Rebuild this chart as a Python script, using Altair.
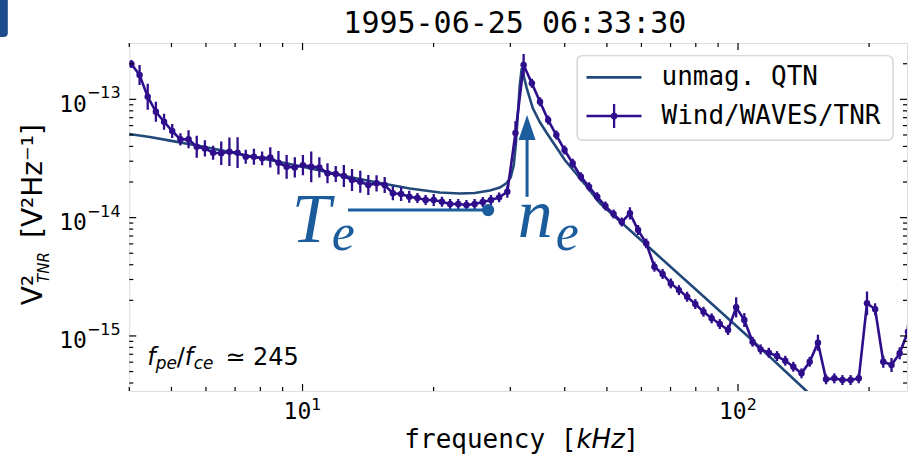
import altair as alt
import pandas as pd

# ---------------- data ----------------
freq_khz = [4.045, 4.224, 4.410, 4.605, 4.808, 5.020, 5.242, 5.473, 5.715, 5.967,
            6.231, 6.506, 6.793, 7.093, 7.406, 7.733, 8.075, 8.431, 8.804, 9.193,
            9.599, 10.02, 10.47, 10.93, 11.41, 11.92, 12.44, 12.99, 13.57, 14.16,
            14.79, 15.44, 16.12, 16.84, 17.58, 18.36, 19.17, 20.01, 20.90, 21.82,
            22.78, 23.79, 24.84, 25.94, 27.08, 28.28, 29.53, 30.83, 32.19, 33.62,
            35.10, 36.65, 38.27, 39.96, 41.72, 43.57, 45.49, 47.50, 49.60, 51.79,
            54.08, 56.47, 58.96, 61.56, 64.28, 67.12, 70.09, 73.18, 76.41, 79.79,
            83.31, 86.99, 90.83, 94.85, 99.04, 103.4, 108.0, 112.7, 117.7, 122.9,
            128.4, 134.0, 139.9, 146.1, 152.6, 159.3, 166.4, 173.7, 181.4, 189.4,
            197.8, 206.5, 215.6, 225.2, 235.1, 245.5]

tnr_v2 = [1.988e-13, 1.605e-13, 1.052e-13, 7.85e-14, 6.47e-14, 5.40e-14, 4.59e-14, 4.59e-14, 3.98e-14, 3.85e-14,
          3.54e-14, 3.50e-14, 3.61e-14, 3.54e-14, 3.27e-14, 3.27e-14, 3.17e-14, 3.23e-14, 2.91e-14, 2.69e-14,
          2.66e-14, 2.78e-14, 2.69e-14, 2.66e-14, 2.37e-14, 2.34e-14, 2.25e-14, 2.08e-14, 2.01e-14, 1.886e-14,
          1.95e-14, 1.886e-14, 1.605e-14, 1.583e-14, 1.502e-14, 1.464e-14, 1.409e-14, 1.409e-14, 1.363e-14, 1.303e-14,
          1.303e-14, 1.278e-14, 1.303e-14, 1.355e-14, 1.409e-14, 1.484e-14, 1.656e-14, 5.19e-14, 1.950e-13, 1.365e-13,
          9.54e-14, 6.68e-14, 4.99e-14, 3.73e-14, 2.88e-14, 2.22e-14, 1.825e-14, 1.502e-14, 1.253e-14, 1.072e-14,
          9.18e-15, 1.087e-14, 7.85e-15, 6.06e-15, 3.85e-15, 3.34e-15, 2.78e-15, 2.44e-15, 2.145e-15, 1.862e-15,
          1.602e-15, 1.409e-15, 1.261e-15, 1.122e-15, 1.745e-15, 1.363e-15, 8.93e-16, 7.70e-16, 7.21e-16, 6.76e-16,
          6.17e-16, 5.49e-16, 4.83e-16, 6.05e-16, 8.76e-16, 4.30e-16, 4.38e-16, 4.24e-16, 4.24e-16, 4.38e-16,
          1.887e-15, 1.679e-15, 6.05e-16, 5.68e-16, 7.13e-16, 1.085e-15]

# half-length of the error bars, in decades
tnr_err_dex = [0.034, 0.085, 0.11, 0.085, 0.068, 0.059, 0.051, 0.076, 0.093, 0.068,
               0.059, 0.10, 0.12, 0.13, 0.059, 0.068, 0.059, 0.085, 0.10, 0.10,
               0.085, 0.085, 0.13, 0.085, 0.085, 0.068, 0.093, 0.093, 0.093, 0.085,
               0.068, 0.068, 0.059, 0.059, 0.051, 0.042, 0.042, 0.051, 0.042, 0.042,
               0.042, 0.042, 0.042, 0.042, 0.042, 0.042, 0.051, 0.10, 0.093, 0.038,
               0.038, 0.038, 0.038, 0.038, 0.038, 0.038, 0.038, 0.038, 0.038, 0.038,
               0.038, 0.051, 0.042, 0.042, 0.042, 0.042, 0.042, 0.042, 0.042, 0.042,
               0.042, 0.042, 0.042, 0.042, 0.085, 0.059, 0.042, 0.042, 0.042, 0.042,
               0.042, 0.042, 0.042, 0.042, 0.068, 0.042, 0.042, 0.042, 0.042, 0.042,
               0.10, 0.051, 0.051, 0.059, 0.051, 0.059]

qtn_freq = [3.95, 4.461, 4.960, 5.810, 6.810, 7.980, 9.35, 10.96, 12.84, 15.05,
            17.63, 20.67, 22.96, 24.86, 26.92, 28.38, 29.44, 30.07, 30.55, 30.88,
            31.21, 31.54, 31.87, 32.72, 33.78, 35.06, 36.38, 37.96, 40.02, 42.19,
            44.48, 46.90, 48.14, 62.71, 81.69, 106.4, 143.6, 162.4]
qtn_v2 = [5.12e-14, 4.80e-14, 4.48e-14, 4.03e-14, 3.58e-14, 3.19e-14, 2.84e-14, 2.50e-14, 2.20e-14, 1.961e-14,
          1.762e-14, 1.630e-14, 1.598e-14, 1.614e-14, 1.694e-14, 1.796e-14, 1.961e-14, 2.20e-14, 2.78e-14, 4.11e-14,
          7.37e-14, 1.321e-13, 1.839e-13, 1.246e-13, 8.44e-14, 6.43e-14, 5.19e-14, 4.11e-14, 3.07e-14, 2.43e-14,
          1.923e-14, 1.493e-14, 1.328e-14, 5.53e-15, 2.305e-15, 9.60e-16, 3.42e-16, 2.27e-16]

x_major = [10, 100]
x_major_exp = ["1", "2"]
x_minor = [4, 5, 6, 7, 8, 9, 20, 30, 40, 50, 60, 70, 80, 90, 200]
y_major = [1e-15, 1e-14, 1e-13]
y_major_exp = ["\u221215", "\u221214", "\u221213"]
y_minor = [4e-16, 5e-16, 6e-16, 7e-16, 8e-16, 9e-16,
           2e-15, 3e-15, 4e-15, 5e-15, 6e-15, 7e-15, 8e-15, 9e-15,
           2e-14, 3e-14, 4e-14, 5e-14, 6e-14, 7e-14, 8e-14, 9e-14, 2e-13]

title_text = "1995-06-25 06:33:30"
legend_labels = ["unmag. QTN", "Wind/WAVES/TNR"]
ratio_text = "\u2243 245"

# annotation anchors (data coordinates)
te_f, te_f2, te_v = 12.72, 26.68, 1.159e-14
ne_f, ne_v_lo, ne_v_hi, ne_head_v = 32.78, 1.50e-14, 4.53e-14, 5.78e-14

# ---------------- styling ----------------
W, H = 778, 348
DATA_C = "#2f0e8c"
MODEL_C = "#22497a"
ANNO_C = "#1b5c9c"
MONO = "DejaVu Sans Mono"
SANS = "DejaVu Sans"

xs = alt.Scale(type="log", domain=[4.0, 244.4], nice=False)
ys = alt.Scale(type="log", domain=[3.428e-16, 2.991e-13], nice=False)


def X(field="f"):
    return alt.X(f"{field}:Q", scale=xs, axis=None)


def Y(field="v"):
    return alt.Y(f"{field}:Q", scale=ys, axis=None)


tnr = pd.DataFrame({"f": freq_khz, "v": tnr_v2, "e": tnr_err_dex})
tnr["lo"] = tnr["v"] / (10 ** tnr["e"])
tnr["hi"] = tnr["v"] * (10 ** tnr["e"])
qtn = pd.DataFrame({"f": qtn_freq, "v": qtn_v2})
dummy = pd.DataFrame({"a": [0]})

layers = []

# model
layers.append(alt.Chart(qtn).mark_line(color=MODEL_C, strokeWidth=2.6, clip=True)
              .encode(x=X(), y=Y()))
# data: error bars, line, points
layers.append(alt.Chart(tnr).mark_rule(color=DATA_C, strokeWidth=2.3, clip=True)
              .encode(x=X(), y=Y("lo"), y2="hi:Q"))
layers.append(alt.Chart(tnr).mark_line(color=DATA_C, strokeWidth=2.6, clip=True)
              .encode(x=X(), y=Y()))
layers.append(alt.Chart(tnr).mark_circle(color=DATA_C, size=42, opacity=1, clip=True)
              .encode(x=X(), y=Y()))

# annotations T_e and n_e
te = pd.DataFrame({"f": [te_f], "f2": [te_f2], "v": [te_v]})
layers.append(alt.Chart(te).mark_rule(color=ANNO_C, strokeWidth=3)
              .encode(x=X(), x2="f2:Q", y=Y()))
layers.append(alt.Chart(pd.DataFrame({"f": [te_f2], "v": [te_v]}))
              .mark_circle(color=ANNO_C, size=150, opacity=1).encode(x=X(), y=Y()))
ne = pd.DataFrame({"f": [ne_f], "v": [ne_v_lo], "v2": [ne_v_hi]})
layers.append(alt.Chart(ne).mark_rule(color=ANNO_C, strokeWidth=3)
              .encode(x=X(), y=Y(), y2="v2:Q"))
layers.append(alt.Chart(pd.DataFrame({"f": [ne_f], "v": [ne_head_v]}))
              .mark_point(shape="M0,-1L0.68,1L-0.68,1Z", filled=True, size=625,
                          color=ANNO_C, opacity=1)
              .encode(x=X(), y=Y()))


def dtext(text, f, v, size, style="italic", font="Liberation Serif", color=ANNO_C):
    return (alt.Chart(pd.DataFrame({"f": [f], "v": [v]}))
            .mark_text(text=text, font=font, fontSize=size, fontStyle=style, color=color,
                       align="left", baseline="alphabetic")
            .encode(x=X(), y=Y()))


layers.append(dtext("T", 9.45, 6.22e-15, 70))
layers.append(dtext("e", 11.67, 5.32e-15, 52))
layers.append(dtext("n", 31.21, 6.85e-15, 70))
layers.append(dtext("e", 38.15, 5.32e-15, 52))


# inside ticks on all four sides
def xticks(vals, length, top):
    df = pd.DataFrame({"f": vals})
    y0, y1 = (0, length) if top else (H, H - length)
    return (alt.Chart(df).mark_rule(color="black", strokeWidth=1.2)
            .encode(x=X(), y=alt.value(y0), y2=alt.value(y1)))


def yticks(vals, length, right):
    df = pd.DataFrame({"v": vals})
    x0, x1 = (W, W - length) if right else (0, length)
    return (alt.Chart(df).mark_rule(color="black", strokeWidth=1.2)
            .encode(y=Y(), x=alt.value(x0), x2=alt.value(x1)))


for top in (False, True):
    layers.append(xticks(x_major, 7, top))
    layers.append(xticks(x_minor, 4, top))
for right in (False, True):
    layers.append(yticks(y_major, 7, right))
    layers.append(yticks(y_minor, 4, right))

# tick labels: "10" with a raised exponent
xl = pd.DataFrame({"f": x_major, "exp": x_major_exp})
layers.append(alt.Chart(xl).mark_text(text="10", font=MONO, fontSize=23, align="left",
                                      baseline="alphabetic", dx=-19, color="black")
              .encode(x=X(), y=alt.value(376)))
layers.append(alt.Chart(xl).mark_text(font=SANS, fontSize=16, align="left",
                                      baseline="alphabetic", dx=8.7, color="black")
              .encode(x=X(), y=alt.value(367), text="exp:N"))
yl = pd.DataFrame({"v": y_major, "exp": y_major_exp})
layers.append(alt.Chart(yl).mark_text(text="10", font=MONO, fontSize=23, align="right",
                                      baseline="alphabetic", dy=12.5, color="black")
              .encode(y=Y(), x=alt.value(-42.3)))
layers.append(alt.Chart(yl).mark_text(font=SANS, fontSize=16, align="left",
                                      baseline="alphabetic", dy=-1, color="black")
              .encode(y=Y(), x=alt.value(-42.3), text="exp:N"))


# pixel-placed text helpers (outside the data space)
def ptext(text, x, y, size, font=MONO, style="normal", align="left", baseline="alphabetic",
          angle=0, color="black"):
    kw = dict(text=text, font=font, fontSize=size, fontStyle=style, align=align,
              baseline=baseline, color=color)
    if angle:
        kw["angle"] = angle
    return alt.Chart(dummy).mark_text(**kw).encode(x=alt.value(x), y=alt.value(y))


def prule(x, x2, y, y2, color, w):
    enc = dict(x=alt.value(x), y=alt.value(y))
    if x2 is not None:
        enc["x2"] = alt.value(x2)
    if y2 is not None:
        enc["y2"] = alt.value(y2)
    return alt.Chart(dummy).mark_rule(color=color, strokeWidth=w).encode(**enc)


# legend
layers.append(alt.Chart(dummy).mark_rect(fill="white", fillOpacity=0.85, stroke="#cccccc",
                                         strokeWidth=1.2, cornerRadius=5)
              .encode(x=alt.value(448), x2=alt.value(764), y=alt.value(12.7), y2=alt.value(97)))
layers.append(prule(457.4, 512.4, 34.3, None, MODEL_C, 2.6))
layers.append(prule(457.4, 512.4, 73, None, DATA_C, 2.6))
layers.append(prule(485, None, 61, 85, DATA_C, 2.3))
layers.append(alt.Chart(dummy).mark_circle(color=DATA_C, size=45, opacity=1)
              .encode(x=alt.value(485), y=alt.value(73)))
layers.append(ptext(legend_labels[0], 532.4, 34.3, 26, baseline="middle"))
layers.append(ptext(legend_labels[1], 532.4, 73, 26, baseline="middle"))

# title
layers.append(ptext(title_text, 385.7, -10, 30, align="center"))

# x-axis title
layers.append(ptext("frequency [", 275.2, 405, 26))
layers.append(ptext("kHz", 447.4, 405, 26, font=SANS, style="italic"))
layers.append(ptext("]", 494.4, 405, 26))

# y-axis title (rotated)
layers.append(ptext("V\u00b2", -87.3, 247, 28, font=SANS, angle=270, align="center"))
layers.append(ptext("TNR", -79.8, 224.5, 15, font=SANS, style="italic", angle=270, align="center"))
layers.append(ptext("[V\u00b2Hz\u207b\u00b9]", -87.3, 138, 28, font=SANS, angle=270, align="center"))

# f_pe / f_ce annotation
layers.append(ptext("f", 18.0, 322, 24, font=SANS, style="italic"))
layers.append(ptext("pe", 26.5, 326, 17, font=SANS, style="italic"))
layers.append(ptext("/", 47.5, 322, 24, font=SANS))
layers.append(ptext("f", 55.5, 322, 24, font=SANS, style="italic"))
layers.append(ptext("ce", 64.5, 326, 17, font=SANS, style="italic"))
layers.append(ptext(ratio_text, 96, 322, 24, font=SANS))

# small dark-blue tab at the top-left corner of the picture
layers.append(alt.Chart(dummy).mark_rect(color="#1e4b8c", cornerRadiusBottomRight=5)
              .encode(x=alt.value(-129.3), x2=alt.value(-121.5), y=alt.value(-43), y2=alt.value(-6)))

chart = (alt.layer(*layers)
         .properties(width=W, height=H,
                     autosize=alt.AutoSizeParams(type="none"),
                     padding={"left": 129.3, "top": 43, "right": 8, "bottom": 70})
         .configure_view(stroke="black", strokeWidth=1.5)
         .configure(background="white"))

chart.save("out.html", embed_options={"renderer": "svg", "actions": False})
